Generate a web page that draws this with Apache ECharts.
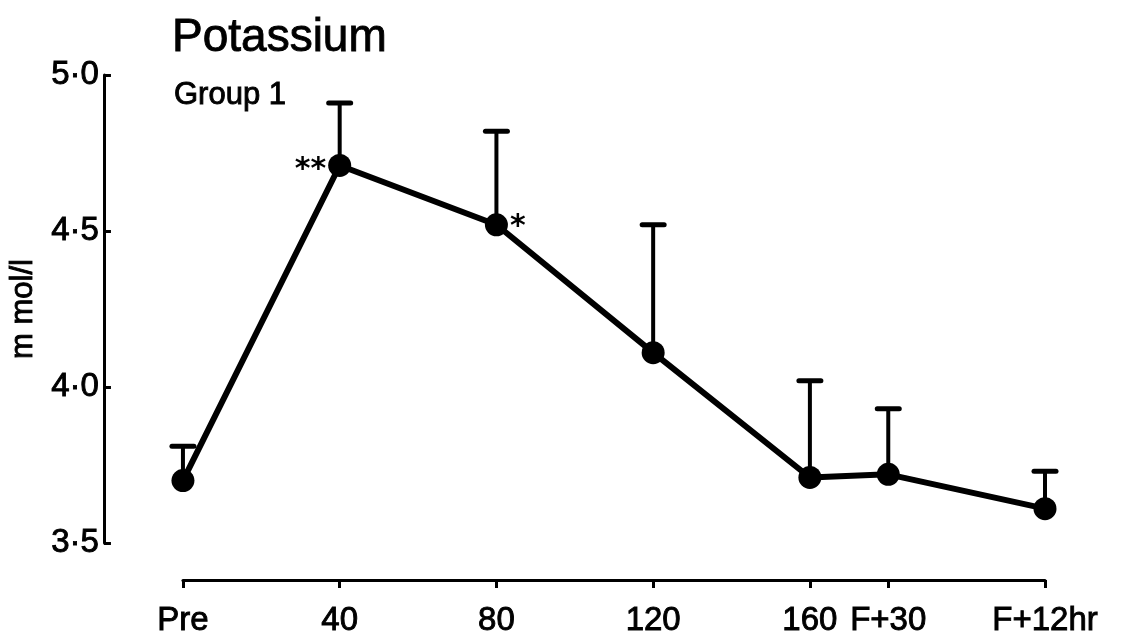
<!DOCTYPE html>
<html>
<head>
<meta charset="utf-8">
<script src="https://cdn.jsdelivr.net/npm/echarts@6/dist/echarts.min.js"></script>
<style>
  html, body { margin: 0; padding: 0; background: #fff; }
  #chart { width: 1123px; height: 640px; }
</style>
</head>
<body>
<div id="chart"></div>
<script>
// Sampling times (minutes; F+30 and F+12hr placed after 160)
const timePoints = [0, 40, 80, 120, 160, 180, 220];
const timeLabels = ['Pre', '40', '80', '120', '160', 'F+30', 'F+12hr'];
// Mean serum potassium (mmol/l) and upper end of error bar
const meanValues = [3.70, 4.71, 4.52, 4.11, 3.71, 3.72, 3.61];
const upperValues = [3.81, 4.91, 4.82, 4.52, 4.02, 3.93, 3.73];
// Significance marks
const sigMarks = ['', '**', '*', '', '', '', ''];

const FONT = '"Liberation Sans", Arial, sans-serif';
const INK = '#000';
// Slight stroke around glyphs for a pen-lettered weight
const HEAVY = { textBorderColor: INK, textBorderWidth: 0.9 };

// Where each kind of significance mark sits relative to its point
const markStyle = {
  '**': { position: 'left', offset: [0, 5] },
  '*': { position: 'right', offset: [0, 2] }
};

const chart = echarts.init(document.getElementById('chart'), null, { renderer: 'canvas' });

const lineData = timePoints.map((t, i) => {
  const mark = sigMarks[i];
  return {
    value: [t, meanValues[i]],
    label: mark ? Object.assign({
      show: true,
      formatter: mark,
      distance: 2,
      fontSize: 30,
      fontWeight: 'bold',
      color: INK,
      fontFamily: 'DejaVu Sans'
    }, markStyle[mark]) : { show: false }
  };
});

const errData = timePoints.map((t, i) => [t, meanValues[i], upperValues[i]]);

chart.setOption({
  animation: false,
  backgroundColor: '#fff',
  title: [
    {
      text: 'Potassium', left: 167, top: 10,
      textStyle: Object.assign({ fontFamily: FONT, fontSize: 46, fontWeight: 'normal', color: INK }, HEAVY)
    },
    {
      text: 'Group 1', left: 169, top: 75,
      textStyle: Object.assign({ fontFamily: FONT, fontSize: 31, fontWeight: 'normal', color: INK }, HEAVY)
    }
  ],
  grid: { left: 179, right: 78, top: 75, bottom: 97, containLabel: false },
  xAxis: {
    type: 'value', min: 0, max: 220,
    offset: 37,
    axisLine: { onZero: false, lineStyle: { color: INK, width: 3 } },
    axisTick: { show: true, customValues: timePoints, inside: false, length: 8, lineStyle: { color: INK, width: 3 } },
    axisLabel: Object.assign({
      customValues: timePoints,
      formatter: v => timeLabels[timePoints.indexOf(v)],
      fontFamily: FONT, fontSize: 33, color: INK, margin: 24
    }, HEAVY),
    splitLine: { show: false }
  },
  yAxis: {
    type: 'value', min: 3.5, max: 5.0, interval: 0.5,
    offset: 79,
    name: 'm mol/l', nameLocation: 'middle', nameGap: 52, nameRotate: 90,
    nameTextStyle: Object.assign({ fontFamily: FONT, fontSize: 31, color: INK }, HEAVY),
    axisLine: { show: true, onZero: false, lineStyle: { color: INK, width: 3 } },
    axisTick: { show: true, inside: true, length: 7, lineStyle: { color: INK, width: 3 } },
    axisLabel: Object.assign({
      formatter: v => v.toFixed(1).replace('.', '·'),
      fontFamily: FONT, fontSize: 33, color: INK, margin: 5
    }, HEAVY),
    splitLine: { show: false }
  },
  series: [
    {
      type: 'custom',
      renderItem: function (params, api) {
        const x = api.value(0);
        const base = api.coord([x, api.value(1)]);
        const top = api.coord([x, api.value(2)]);
        const half = 11;
        return {
          type: 'group',
          children: [
            { type: 'line', shape: { x1: base[0], y1: base[1], x2: top[0], y2: top[1] },
              style: { stroke: INK, lineWidth: 4 } },
            { type: 'line', shape: { x1: top[0] - half, y1: top[1], x2: top[0] + half, y2: top[1] },
              style: { stroke: INK, lineWidth: 5, lineCap: 'round' } }
          ]
        };
      },
      data: errData,
      z: 1
    },
    {
      type: 'line',
      data: lineData,
      symbol: 'circle', symbolSize: 23,
      itemStyle: { color: INK },
      lineStyle: { color: INK, width: 6 },
      z: 2
    }
  ]
});
</script>
</body>
</html>
